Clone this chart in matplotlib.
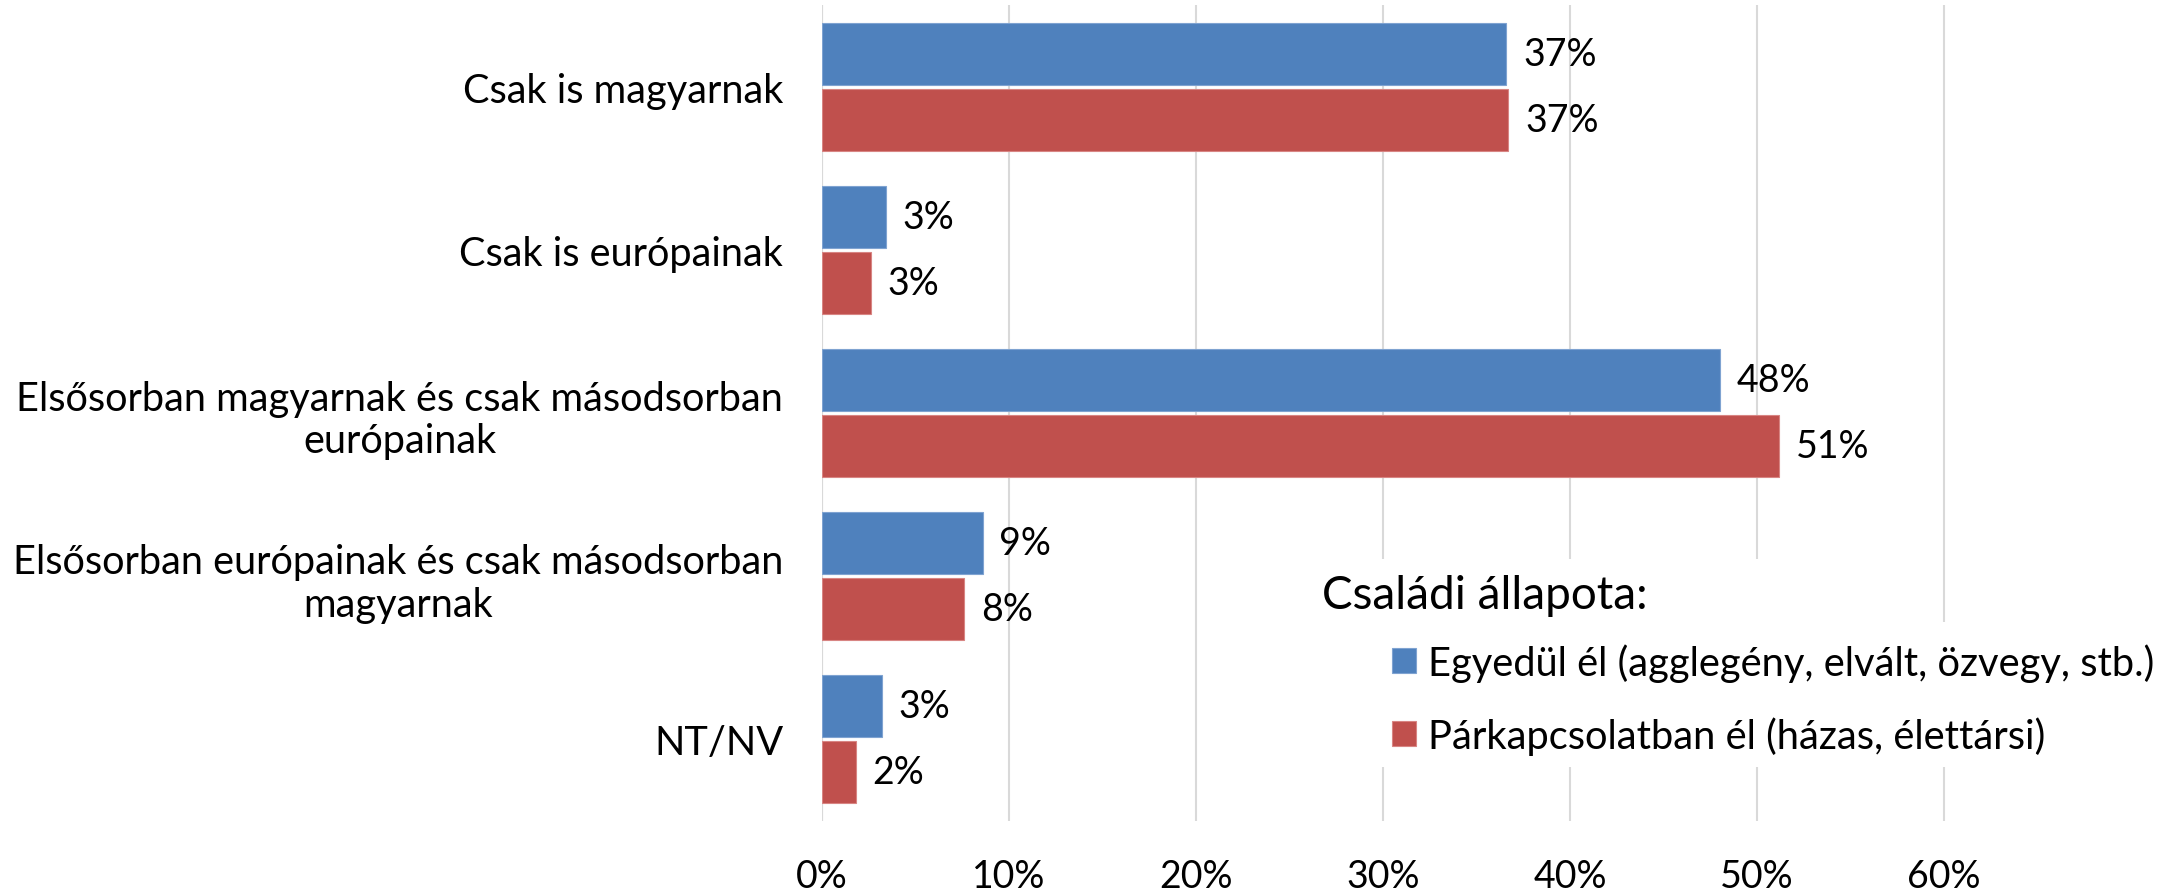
import matplotlib
matplotlib.use("Agg")
import matplotlib.pyplot as plt
from matplotlib.patches import Rectangle
import numpy as np

plt.rcParams['font.family'] = ['Lato', 'DejaVu Sans']

# data
categories = [
    "Csak is magyarnak",
    "Csak is európainak",
    "Elsősorban magyarnak és csak másodsorban\neurópainak",
    "Elsősorban európainak és csak másodsorban\nmagyarnak",
    "NT/NV",
]
egyedul = [0.366, 0.034, 0.480, 0.086, 0.032]
parkapcsolat = [0.367, 0.026, 0.512, 0.076, 0.018]
series_names = ["Egyedül él (agglegény, elvált, özvegy, stb.)",
                "Párkapcsolatban él (házas, élettársi)"]
legend_title = "Családi állapota:"
xticks = [0, 0.1, 0.2, 0.3, 0.4, 0.5, 0.6]

blue = "#4F81BD"
red = "#C0504D"
fs = 27
W, H = 2179, 895

fig = plt.figure(figsize=(21.79, 8.95), dpi=100)
ax = fig.add_axes([822 / W, 1 - 822 / H, 1 - 822 / W, (822 - 6) / H])

y = np.arange(len(categories))
h = 0.38
off = 0.202
b1 = ax.barh(y - off, egyedul, height=h, color=blue, edgecolor="#7FA3D1", linewidth=0.8, zorder=3)
b2 = ax.barh(y + off, parkapcsolat, height=h, color=red, edgecolor="#D88583", linewidth=0.8, zorder=3)

for bars, vals in ((b1, egyedul), (b2, parkapcsolat)):
    for rect, v in zip(bars, vals):
        ax.annotate(f"{round(v * 100):.0f}%", (v, rect.get_y() + rect.get_height() / 2),
                    xytext=(12, 0), textcoords="offset points",
                    va="center", ha="left", fontsize=fs, color="black")

ax.set_xlim(0, (W - 822) / 1870)
ax.set_ylim(len(categories) - 0.5, -0.5)
ax.set_xticks(xticks)
ax.set_xticklabels([f"{int(round(t * 100))}%" for t in xticks], fontsize=fs)
ax.set_yticks(y)
ax.set_yticklabels(categories, fontsize=28.6, multialignment="center")
ax.tick_params(axis="both", length=0)
ax.tick_params(axis="x", pad=27)
ax.tick_params(axis="y", pad=28)
ax.xaxis.grid(True, color="#D9D9D9", linewidth=1.5, zorder=0)
ax.set_axisbelow(True)
for s in ax.spines.values():
    s.set_visible(False)
ax.axvline(0, color="#D9D9D9", linewidth=1.5, zorder=1)

# white boxes behind the legend title and entries (they hide the gridlines)
for (x0, y0, x1, y1) in [(1300, 560, 1800, 623), (1370, 623, W, 768)]:
    ax.add_patch(Rectangle((x0 / W, 1 - y1 / H), (x1 - x0) / W, (y1 - y0) / H,
                           transform=fig.transFigure, facecolor="white",
                           edgecolor="none", zorder=2, clip_on=False))

fig.text(1322 / W, 1 - 596 / H, legend_title, fontsize=33, va="center", ha="left")
leg = fig.legend([b1, b2], series_names, loc="upper left",
                 bbox_to_anchor=(1392 / W, 1 - 644 / H),
                 frameon=False, fontsize=28.7, handlelength=0.6, handleheight=0.6,
                 handletextpad=0.3, labelspacing=0.86, borderaxespad=0, borderpad=0)

fig.savefig("out.png", dpi=100)
